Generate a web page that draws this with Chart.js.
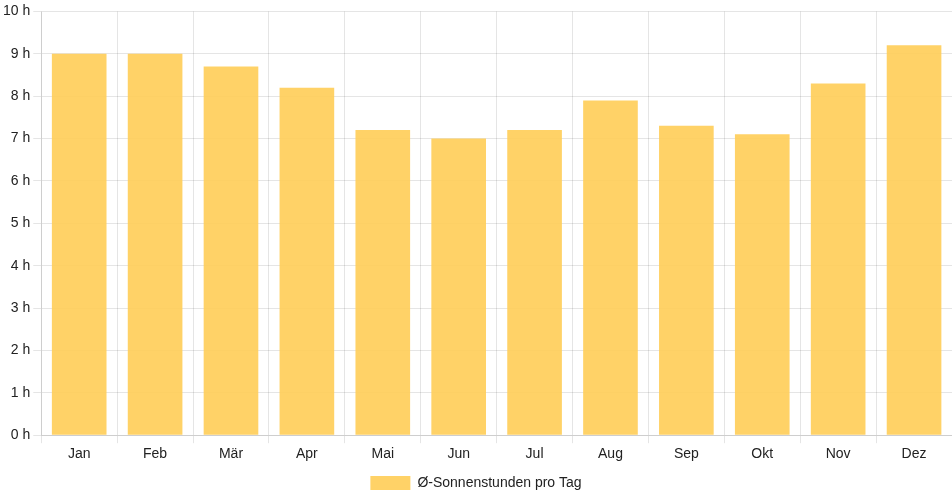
<!DOCTYPE html>
<html>
<head>
<meta charset="utf-8">
<script src="https://cdn.jsdelivr.net/npm/chart.js@4"></script>
<style>
html,body{margin:0;padding:0;background:#fff;}
#wrap{width:952px;height:500px;position:relative;}
</style>
</head>
<body>
<div id="wrap"><canvas id="c"></canvas></div>
<script>
const categories = ["Jan","Feb","Mär","Apr","Mai","Jun","Jul","Aug","Sep","Okt","Nov","Dez"];
const sunHours = [9.0, 9.0, 8.7, 8.2, 7.2, 7.0, 7.2, 7.9, 7.3, 7.1, 8.3, 9.2];
const seriesLabel = "Ø-Sonnenstunden pro Tag";

Chart.defaults.font.family = "'Liberation Sans', Arial, Helvetica, sans-serif";
Chart.defaults.font.size = 14;
Chart.defaults.color = "#222";

new Chart(document.getElementById('c'), {
  type: 'bar',
  data: {
    labels: categories,
    datasets: [{
      label: seriesLabel,
      data: sunHours,
      backgroundColor: 'rgba(255, 205, 86, 0.9)',
      borderWidth: 0
    }]
  },
  options: {
    responsive: true,
    maintainAspectRatio: false,
    animation: false,
    plugins: {
      legend: { position: 'bottom', labels: { boxWidth: 40 } },
      tooltip: { enabled: false }
    },
    scales: {
      y: {
        min: 0, max: 10,
        ticks: { stepSize: 1, callback: v => v + ' h' }
      },
      x: {}
    }
  }
});
</script>
</body>
</html>
